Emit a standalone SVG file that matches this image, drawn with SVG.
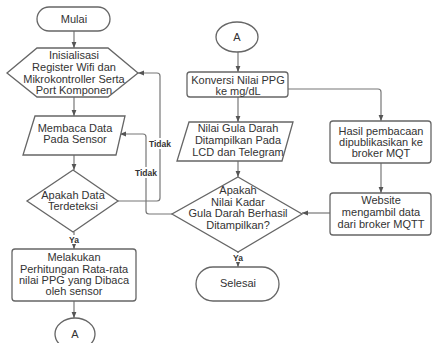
<svg xmlns="http://www.w3.org/2000/svg" width="433" height="343" viewBox="0 0 433 343">
<defs>
<marker id="ah" viewBox="0 0 6 6" refX="6" refY="3" markerWidth="6" markerHeight="6" orient="auto" markerUnits="userSpaceOnUse">
<path d="M0,0.6 L6,3 L0,5.4 Z" fill="#555"/>
</marker>
<style>
.shape{fill:#fff;stroke:#666;stroke-width:1.3}
.t{font-family:"Liberation Sans",Arial,sans-serif;font-size:11px;fill:#333;text-anchor:middle}
.lbl{font-family:"Liberation Sans",Arial,sans-serif;font-size:8.5px;font-weight:bold;fill:#333;text-anchor:middle}
.c{fill:none;stroke:#777;stroke-width:1.2;stroke-linejoin:round;marker-end:url(#ah)}
.lb{fill:#fff}
</style>
</defs>
<rect width="433" height="343" fill="#fff"/>
<g id="connectors">
<path class="c" d="M74,31 V48"/>
<path class="c" d="M74,97 V116"/>
<path class="c" d="M74,155 V170"/>
<path class="c" d="M74,232 V249"/>
<path class="c" d="M74,301 V318"/>
<path class="c" d="M118,201 H157 Q160,201 160,198 V76 Q160,73 157,73 H138"/>
<path class="c" d="M238,52 V72"/>
<path class="c" d="M238,97 V122"/>
<path class="c" d="M288,89 H378 Q381,89 381,92 V121"/>
<path class="c" d="M238,161 V177"/>
<path class="c" d="M381,163 V193"/>
<path class="c" d="M330,213 H302"/>
<path class="c" d="M172,214 H149 Q146,214 146,211 V137 Q146,134 143,134 H120"/>
<path class="c" d="M238,252 V267"/>
<rect class="lb" x="147" y="138" width="26" height="11"/>
<text class="lbl" x="160" y="147">Tidak</text>
<rect class="lb" x="133" y="167" width="26" height="11"/>
<text class="lbl" x="146" y="176">Tidak</text>
<rect class="lb" x="67" y="235" width="14" height="9"/>
<text class="lbl" x="74" y="243">Ya</text>
<rect class="lb" x="231" y="253" width="14" height="9"/>
<text class="lbl" x="238" y="261">Ya</text>
</g>
<g id="mulai">
<rect class="shape" x="37" y="7" width="73" height="24" rx="12"/>
<text class="t" x="74" y="23">Mulai</text>
</g>
<g id="inisialisasi">
<polygon class="shape" points="7,73 37,48 108,48 138,73 108,97 37,97"/>
<text class="t" x="74" y="59">Inisialisasi</text>
<text class="t" x="74" y="71">Register Wifi dan</text>
<text class="t" x="74" y="83">Mikrokontroller Serta</text>
<text class="t" x="74" y="94">Port Komponen</text>
</g>
<g id="membaca">
<polygon class="shape" points="35,116 125,116 116,155 23,155"/>
<text class="t" x="75" y="132">Membaca Data</text>
<text class="t" x="75" y="143">Pada Sensor</text>
</g>
<g id="terdeteksi">
<polygon class="shape" points="73,170 118,201 73,232 27,201"/>
<text class="t" x="73" y="199">Apakah Data</text>
<text class="t" x="73" y="210">Terdeteksi</text>
</g>
<g id="perhitungan">
<rect class="shape" x="12" y="249" width="124" height="52" rx="3"/>
<text class="t" x="74" y="261">Melakukan</text>
<text class="t" x="74" y="273">Perhitungan Rata-rata</text>
<text class="t" x="74" y="284">nilai PPG yang Dibaca</text>
<text class="t" x="74" y="295">oleh sensor</text>
</g>
<g id="a-out">
<ellipse class="shape" cx="75" cy="334" rx="20" ry="16"/>
<text class="t" x="75" y="338">A</text>
</g>
<g id="a-in">
<ellipse class="shape" cx="237" cy="37" rx="21" ry="15"/>
<text class="t" x="237" y="41">A</text>
</g>
<g id="konversi">
<rect class="shape" x="187" y="72" width="101" height="25" rx="3"/>
<text class="t" x="238" y="84">Konversi Nilai PPG</text>
<text class="t" x="238" y="95">ke mg/dL</text>
</g>
<g id="tampil">
<polygon class="shape" points="189,122 293,122 282,161 177,161"/>
<text class="t" x="238" y="132">Nilai Gula Darah</text>
<text class="t" x="238" y="144">Ditampilkan Pada</text>
<text class="t" x="238" y="156">LCD dan Telegram</text>
</g>
<g id="berhasil">
<polygon class="shape" points="238,177 302,214 238,252 172,214"/>
<text class="t" x="238" y="194">Apakah</text>
<text class="t" x="238" y="206">Nilai Kadar</text>
<text class="t" x="238" y="217">Gula Darah Berhasil</text>
<text class="t" x="238" y="229">Ditampilkan?</text>
</g>
<g id="hasil">
<rect class="shape" x="330" y="121" width="101" height="42" rx="3"/>
<text class="t" x="381" y="135">Hasil pembacaan</text>
<text class="t" x="381" y="146">dipublikasikan ke</text>
<text class="t" x="381" y="157">broker MQT</text>
</g>
<g id="website">
<rect class="shape" x="330" y="193" width="101" height="42" rx="3"/>
<text class="t" x="381" y="204">Website</text>
<text class="t" x="381" y="216">mengambil data</text>
<text class="t" x="381" y="228">dari broker MQTT</text>
</g>
<g id="selesai">
<rect class="shape" x="196" y="267" width="83" height="34" rx="17"/>
<text class="t" x="238" y="287">Selesai</text>
</g>
</svg>
